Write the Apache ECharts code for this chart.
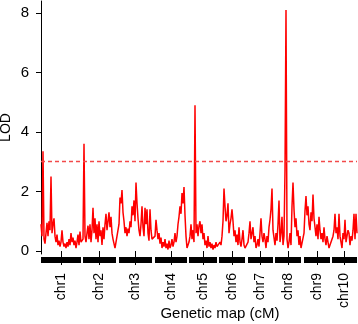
<!DOCTYPE html>
<html>
<head>
<meta charset="utf-8">
<script src="https://cdn.jsdelivr.net/npm/echarts@6/dist/echarts.min.js"></script>
<style>
  html, body { margin: 0; padding: 0; background: #fff; }
  #chart { width: 358px; height: 324px; }
</style>
</head>
<body>
<div id="chart"></div>
<script>
// chromosome layout (cM along the concatenated map)
const chrNames = ['chr1', 'chr2', 'chr3', 'chr4', 'chr5', 'chr6', 'chr7', 'chr8', 'chr9', 'chr10'];
const chrStart = [0, 42, 78, 114, 148, 178, 207, 234, 263, 291];
const chrEnd = [40, 75, 111, 146, 176, 204, 232, 260, 289, 316];
const chrMid = [20, 58.5, 94.5, 130, 162, 191, 219.5, 247, 276, 303.5];
const yTicks = [0, 2, 4, 6, 8];
const threshold = 3;

// LOD values, one per cM
const lod1 = [0.9, 0.5, 3.35, 0.4, 0.25, 0.6, 0.95, 0.5, 1.0, 0.7, 2.5, 0.6, 0.9, 1.1, 0.5, 0.3, 0.55, 0.2, 0.35, 0.15,
  0.3, 0.7, 0.3, 0.15, 0.25, 0.1, 0.3, 0.15, 0.4, 0.2, 0.6, 0.3, 0.45, 0.2, 0.35, 0.1, 0.3, 0.55, 0.2, 0.65, 0.3];
const lod2 = [0.4, 3.6, 0.5, 0.3, 0.6, 0.85, 0.4, 0.9, 0.3, 0.7, 1.45, 0.6, 1.1, 0.4, 0.9, 0.3, 1.0, 0.5, 0.7, 0.2,
  0.8, 0.4, 0.9, 1.25, 0.7, 1.0, 1.3, 0.8, 1.15, 0.6, 0.4, 0.25, 0.1, 0.05];
const lod3 = [0.9, 1.8, 1.6, 2.05, 1.3, 1.0, 0.6, 0.8, 0.5, 0.75, 0.6, 1.0, 0.8, 1.5, 1.2, 1.7, 1.0, 2.3, 1.6, 1.1,
  0.7, 0.5, 0.9, 1.5, 0.8, 0.5, 1.45, 0.9, 1.4, 0.6, 0.35, 1.4, 0.7, 0.4];
const lod4 = [0.5, 1.05, 0.7, 0.4, 0.6, 0.25, 0.45, 0.1, 0.3, 0.15, 0.4, 0.1, 0.25, 0.05, 0.35, 0.1, 0.2, 0.4, 0.15, 0.3,
  0.6, 0.3, 0.5, 0.9, 1.15, 1.5, 1.25, 1.95, 1.6, 2.15, 1.2, 0.5, 0.1];
const lod5 = [0.3, 0.5, 0.9, 0.4, 0.7, 0.3, 4.9, 0.6, 0.9, 0.5, 0.85, 1.0, 0.6, 0.9, 0.4, 0.6, 0.2, 0.35, 0.1, 0.5,
  0.15, 0.3, 0.1, 0.25, 0.05, 0.2, 0.1, 0.3, 0.15];
const lod6 = [0.1, 0.3, 0.2, 0.5, 1.0, 2.1, 1.5, 1.0, 1.2, 1.6, 0.6, 0.9, 1.1, 1.4, 1.0, 0.5, 0.7, 0.3, 0.55, 0.2,
  0.8, 0.3, 0.15, 0.4, 0.7, 0.2, 0.1];
const lod7 = [0.3, 0.6, 1.0, 0.4, 0.6, 0.8, 0.3, 0.5, 0.1, 0.2, 0.4, 0.15, 0.6, 1.1, 0.5, 0.3, 0.6, 0.4, 0.1, 0.5,
  0.3, 0.8, 1.05, 1.4, 2.1, 0.7];
const lod8 = [0.2, 0.6, 0.35, 0.9, 1.7, 0.3, 0.6, 1.15, 0.2, 0.5, 2.7, 8.1, 0.4, 0.1, 0.3, 0.6, 0.2, 1.5, 2.3, 1.4,
  0.8, 1.1, 0.5, 0.7, 0.2, 0.5, 0.1];
const lod9 = [0.6, 1.35, 1.85, 1.2, 1.5, 0.9, 0.7, 1.3, 1.0, 1.9, 1.1, 0.8, 0.5, 0.9, 0.4, 1.15, 0.7, 0.4, 0.6, 0.3,
  0.8, 0.4, 0.2, 0.5, 0.3, 0.1, 0.2];
const lod10 = [0.2, 0.5, 0.7, 1.25, 0.6, 0.8, 0.4, 1.25, 0.5, 0.3, 0.1, 0.6, 0.4, 1.05, 0.3, 0.5, 0.7, 0.6, 0.2, 0.5,
  0.35, 0.7, 1.25, 0.4, 1.25, 0.6];

const lodByChr = [lod1, lod2, lod3, lod4, lod5, lod6, lod7, lod8, lod9, lod10];

// markers are 1 cM apart inside each chromosome
const points = [];
lodByChr.forEach((vals, c) => {
  vals.forEach((v, i) => points.push([chrStart[c] + i, v]));
});

const font = 'Liberation Sans, Arial, sans-serif';

const chart = echarts.init(document.getElementById('chart'));

const option = {
  animation: false,
  grid: { left: 41, right: 1, top: 1, bottom: 70, outerBoundsMode: 'none', containLabel: false },
  xAxis: {
    type: 'value',
    min: 0,
    max: 316,
    name: 'Genetic map (cM)',
    nameLocation: 'middle',
    nameGap: 52,
    nameMoveOverlap: false,
    nameTextStyle: { color: '#000', fontSize: 15, fontFamily: font, padding: [0, 0, 0, 42] },
    axisLine: { show: false },
    splitLine: { show: false },
    axisTick: {
      show: true,
      customValues: chrMid,
      length: 14,
      lineStyle: { color: '#000', width: 1 },
    },
    axisLabel: {
      customValues: chrMid,
      rotate: 90,
      margin: 19,
      color: '#000',
      fontSize: 14,
      fontFamily: font,
      formatter: (v) => chrNames[chrMid.indexOf(v)],
    },
  },
  yAxis: {
    type: 'value',
    min: -0.1,
    max: 8.4,
    name: 'LOD',
    nameLocation: 'middle',
    nameGap: 28,
    nameMoveOverlap: false,
    nameTextStyle: { color: '#000', fontSize: 14, fontFamily: font },
    axisLine: { show: true, lineStyle: { color: '#000', width: 1 } },
    splitLine: { show: false },
    axisTick: {
      show: true,
      customValues: yTicks,
      length: 5,
      lineStyle: { color: '#000', width: 1 },
    },
    axisLabel: {
      customValues: yTicks,
      margin: 12,
      color: '#000',
      fontSize: 15,
      fontFamily: font,
    },
  },
  series: [
    {
      name: 'LOD',
      type: 'line',
      data: points,
      showSymbol: false,
      lineStyle: { color: '#ff0000', width: 1.5 },
      markLine: {
        silent: true,
        symbol: 'none',
        label: { show: false },
        lineStyle: { color: '#f24a4a', type: [4, 3], width: 1.3 },
        data: [{ yAxis: threshold }],
      },
    },
    {
      // black chromosome bars under the plot
      type: 'custom',
      clip: false,
      silent: true,
      data: chrStart.map((s, i) => [s, chrEnd[i]]),
      encode: { x: [0, 1] },
      renderItem: (params, api) => {
        const p0 = api.coord([api.value(0), -0.1]);
        const p1 = api.coord([api.value(1), -0.1]);
        return {
          type: 'rect',
          shape: { x: p0[0], y: p0[1] + 3, width: p1[0] - p0[0], height: 6 },
          style: { fill: '#000' },
        };
      },
    },
  ],
};

chart.setOption(option);
</script>
</body>
</html>
